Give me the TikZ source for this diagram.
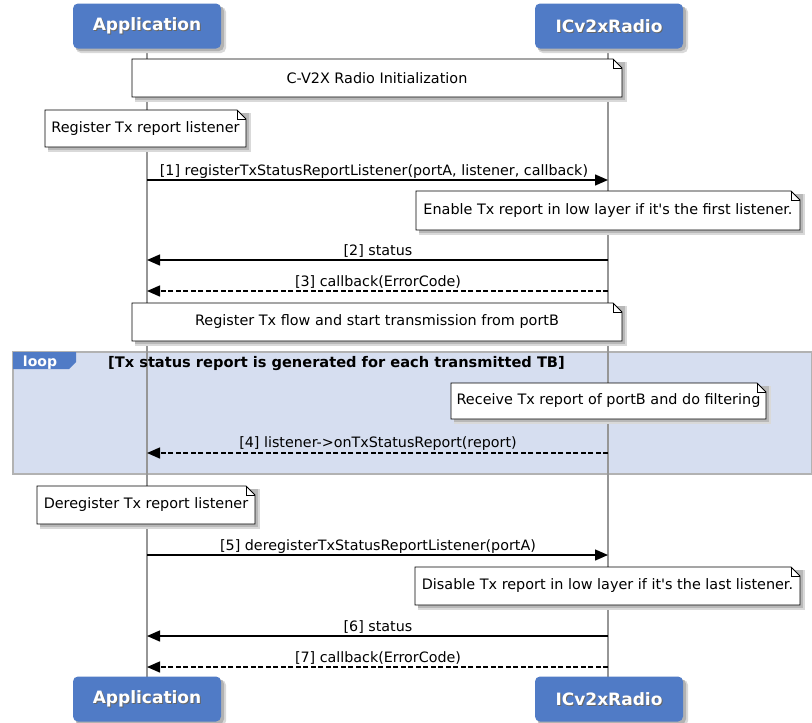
\documentclass[tikz,border=0pt]{standalone}
\usepackage{fontspec}
\setmainfont{DejaVu Sans}
\usetikzlibrary{arrows.meta}
\definecolor{hdrblue}{RGB}{80,123,198}
\definecolor{loopfill}{RGB}{214,222,240}
\definecolor{lifegray}{RGB}{150,150,150}
\tikzset{
  hdr/.style={draw=none, fill=hdrblue, rounded corners=5pt, minimum width=148pt, minimum height=45pt, inner sep=0pt},
  hdrtext/.style={text=white, font=\fontsize{17}{19}\selectfont\bfseries},
  hdrshadow/.style={text=black!60, font=\fontsize{17}{19}\selectfont\bfseries},
  lifeline/.style={draw=lifegray, line width=1.6pt},
  msg/.style={draw=black, line width=1.4pt, -{Triangle[length=13pt,width=11pt]}},
  reply/.style={msg, dash pattern=on 5pt off 2.5pt},
  msglabel/.style={font=\fontsize{14.3}{16}\selectfont, inner sep=0pt, anchor=base},
  notetext/.style={font=\fontsize{14.4}{17}\selectfont, inner sep=0pt},
  notebody/.style={draw=black, line width=0.9pt, fill=white},
  noteshadowA/.style={fill=black!15, draw=none},
  noteshadowB/.style={fill=black!28, draw=none},
}
% \mynote{name}{x1}{y1}{x2}{y2}{text}
\newcommand{\mynote}[6]{%
  \fill[noteshadowA] ({#2+3},{#3+3}) rectangle ({#4+5},{#5+5});
  \fill[noteshadowB] ({#2+3},{#3+3}) rectangle ({#4+3},{#5+3});
  \draw[notebody] (#2,#3) -- ({#4-9},#3) -- (#4,{#3+9}) -- (#4,#5) -- (#2,#5) -- cycle;
  \draw[black, line width=0.9pt] ({#4-9},#3) -- ({#4-9},{#3+9}) -- (#4,{#3+9});
  \node[notetext] (#1) at ({(#2+#4)/2},{(#3+#5)/2}) {#6};%
}
\newcommand{\hdrbox}[4]{%
  \fill[black!15, rounded corners=5pt] ({#2-74+3},{#3-22+3}) rectangle ({#2+74+5},{#3+22+5});
  \fill[black!30, rounded corners=5pt] ({#2-74+2},{#3-22+2}) rectangle ({#2+74+3},{#3+22+3});
  \node[hdr] (#1) at (#2,#3) {};
  \node[hdrshadow] at ({#2+1},{#3+1}) {#4};
  \node[hdrtext] at (#2,#3) {#4};%
}
\begin{document}
\begin{tikzpicture}[x=1pt,y=-1pt]
\useasboundingbox (0,0) rectangle (812,723);
\fill[white] (0,0) rectangle (812,723);

% loop frame
\draw[fill=loopfill, draw=black!30, line width=1.5pt] (13,352) rectangle (812,474);

% lifelines
\coordinate (appTop) at (147,49);
\coordinate (appBot) at (147,678);
\coordinate (radTop) at (608,49);
\coordinate (radBot) at (608,678);
\draw[lifeline] (appTop) -- (appBot);
\draw[lifeline] (radTop) -- (radBot);

% loop tag
\fill[hdrblue] (13,352) -- (76,352) -- (76,362) -- (69,369) -- (13,369) -- cycle;
\node[text=white, font=\fontsize{14}{16}\selectfont\bfseries, anchor=base] (looptag) at (40,366) {loop};
\node[font=\fontsize{14.6}{17}\selectfont\bfseries, anchor=base west, inner sep=0pt] (loopcond) at (108,367) {[Tx status report is generated for each transmitted TB]};

% headers
\hdrbox{appH}{147}{26}{Application}
\hdrbox{radH}{609}{26}{ICv2xRadio}
\hdrbox{appF}{147}{699}{Application}
\hdrbox{radF}{609}{699}{ICv2xRadio}

% notes
\mynote{n1}{132}{59}{622}{97}{C-V2X Radio Initialization}
\mynote{n2}{45}{110}{246}{147}{Register Tx report listener}
\mynote{n3}{416}{191}{800}{230}{Enable Tx report in low layer if it\textquotesingle s the first listener.}
\mynote{n4}{132}{303}{622}{341}{Register Tx flow and start transmission from portB}
\mynote{n5}{451}{383}{766}{419}{Receive Tx report of portB and do filtering}
\mynote{n6}{37}{486}{255}{524}{Deregister Tx report listener}
\mynote{n7}{415}{567}{800}{605}{Disable Tx report in low layer if it\textquotesingle s the last listener.}

% messages
\coordinate (a1) at (147,180); \coordinate (r1) at (608,180);
\coordinate (a2) at (147,260); \coordinate (r2) at (608,260);
\coordinate (a3) at (147,291); \coordinate (r3) at (608,291);
\coordinate (a4) at (147,453); \coordinate (r4) at (608,453);
\coordinate (a5) at (147,555); \coordinate (r5) at (608,555);
\coordinate (a6) at (147,636); \coordinate (r6) at (608,636);
\coordinate (a7) at (147,667); \coordinate (r7) at (608,667);

\draw[msg] (a1) -- (r1);
\node[msglabel] (l1) at (374,175) {[1] registerTxStatusReportListener(portA, listener, callback)};
\draw[msg] (r2) -- (a2);
\node[msglabel] (l2) at (378,255) {[2] status};
\draw[reply] (r3) -- (a3);
\node[msglabel] (l3) at (378,286) {[3] callback(ErrorCode)};
\draw[reply] (r4) -- (a4);
\node[msglabel] (l4) at (378,447) {[4] listener->onTxStatusReport(report)};
\draw[msg] (a5) -- (r5);
\node[msglabel] (l5) at (378,550) {[5] deregisterTxStatusReportListener(portA)};
\draw[msg] (r6) -- (a6);
\node[msglabel] (l6) at (378,631) {[6] status};
\draw[reply] (r7) -- (a7);
\node[msglabel] (l7) at (378,662) {[7] callback(ErrorCode)};
\end{tikzpicture}
\end{document}
